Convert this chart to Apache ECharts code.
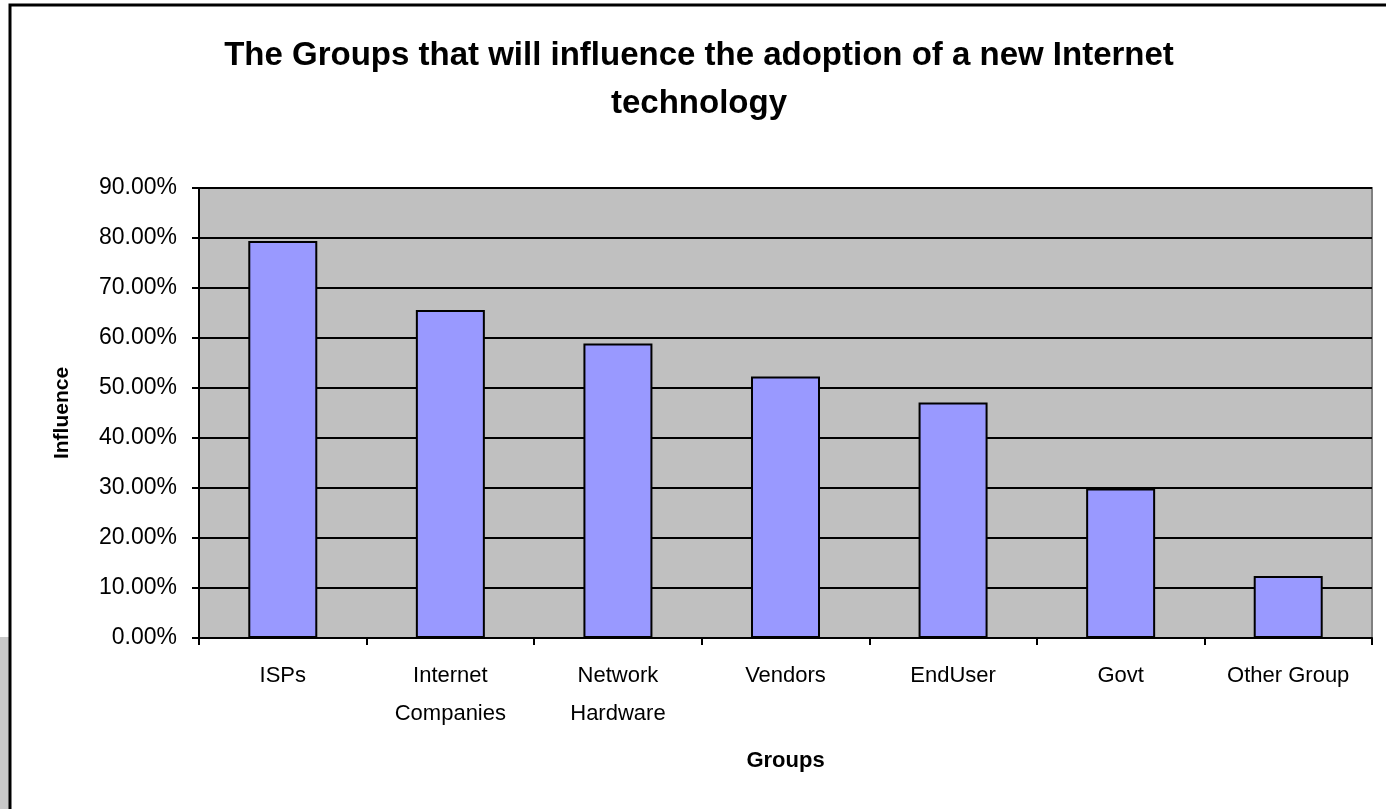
<!DOCTYPE html>
<html>
<head>
<meta charset="utf-8">
<script src="https://cdn.jsdelivr.net/npm/echarts@6/dist/echarts.min.js"></script>
<style>
  html, body { margin: 0; padding: 0; background: #fff; }
  #chart { width: 1386px; height: 809px; }
</style>
</head>
<body>
<div id="chart"></div>
<script>
var categories = ['ISPs', 'Internet\nCompanies', 'Network\nHardware', 'Vendors', 'EndUser', 'Govt', 'Other Group'];
var influence = [0.794, 0.656, 0.589, 0.523, 0.471, 0.299, 0.124];

var chart = echarts.init(document.getElementById('chart'));
var font = 'Liberation Sans, Arial, sans-serif';

var option = {
  backgroundColor: '#fff',
  animation: false,
  textStyle: { fontFamily: font },
  title: {
    text: 'The Groups that will influence the adoption of a new Internet\ntechnology',
    left: 694,
    textAlign: 'center',
    top: 27,
    textStyle: { fontSize: 33, fontWeight: 'bold', color: '#000', lineHeight: 48, fontFamily: font }
  },
  graphic: [
    // grey shadow at lower left, then the outer chart border
    { type: 'rect', shape: { x: 0, y: 637, width: 9, height: 200 }, style: { fill: '#c8c8c8' }, silent: true },
    { type: 'rect', shape: { x: 10, y: 5, width: 1400, height: 900 }, style: { fill: 'none', stroke: '#000', lineWidth: 3 }, silent: true }
  ],
  grid: {
    left: 199, right: 14, top: 188, bottom: 171,
    show: true, backgroundColor: '#C0C0C0', borderColor: '#808080', borderWidth: 2
  },
  xAxis: {
    type: 'category',
    data: categories,
    name: 'Groups',
    nameLocation: 'middle',
    nameGap: 112,
    nameTextStyle: { fontSize: 22, fontWeight: 'bold', color: '#000' },
    axisLine: { lineStyle: { color: '#000', width: 2 } },
    axisTick: { show: true, length: 7, lineStyle: { color: '#000', width: 2 } },
    axisLabel: { interval: 0, fontSize: 22, lineHeight: 38, margin: 19, color: '#000' }
  },
  yAxis: {
    type: 'value',
    min: 0, max: 0.9, interval: 0.1,
    name: 'Influence',
    nameLocation: 'middle',
    nameGap: 126,
    nameTextStyle: { fontSize: 21, fontWeight: 'bold', color: '#000' },
    axisLine: { show: true, lineStyle: { color: '#000', width: 2 } },
    axisTick: { show: true, length: 7, lineStyle: { color: '#000', width: 2 } },
    splitLine: { lineStyle: { color: '#000', width: 2 } },
    axisLabel: {
      fontSize: 23, margin: 22, color: '#000',
      formatter: function (v) { return (v * 100).toFixed(2) + '%'; }
    }
  },
  series: [{
    type: 'bar',
    data: influence,
    barWidth: 69,
    itemStyle: { color: '#9999FF', borderColor: '#000', borderWidth: 2 }
  }]
};

chart.setOption(option);
</script>
</body>
</html>
